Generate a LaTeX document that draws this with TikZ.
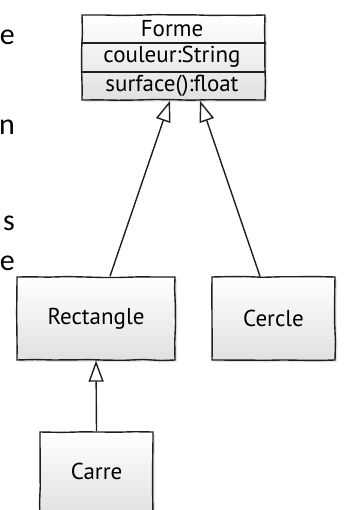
\documentclass[tikz,border=0pt]{standalone}
\usepackage{fontspec}
\setmainfont{Carlito}
\newfontfamily\sketchfont{PT Sans}
\usetikzlibrary{arrows.meta,shadows,calc,decorations.pathmorphing}

\begin{document}
\begin{tikzpicture}[x=1pt,y=-1pt,
  ink/.style={draw=black!88, line width=1.4pt},
  umlbox/.style={ink, top color=white, bottom color=black!12,
    drop shadow={shadow xshift=2pt, shadow yshift=-2pt, opacity=0.22},
    inner sep=0pt, font=\sketchfont\fontsize{23}{26}\selectfont,
    decoration={random steps, segment length=18pt, amplitude=0.5pt}, decorate},
  label/.style={inner sep=0pt, font=\sketchfont\fontsize{23}{26}\selectfont},
  edgeword/.style={inner sep=0pt, anchor=base east, font=\fontsize{30}{30}\selectfont},
  inherit/.style={ink, -{Triangle[open, length=21pt, width=15pt, fill=white]}}
]
\pgfmathsetseed{7}
\useasboundingbox (0,0) rectangle (344,510);
\clip (0,0) rectangle (344,510);

% words running in from the left margin
\node[edgeword] (w1) at (15,45) {e};
\node[edgeword] (w2) at (15,135) {n};
\node[edgeword] (w3) at (15,230) {s};
\node[edgeword] (w4) at (15,270) {e};

% class Forme with its three compartments
\node[umlbox, minimum width=183pt, minimum height=85pt] (forme) at (173.5,57.5) {};
\draw[ink] ($(forme.north west)!0.33!(forme.south west)$) -- ($(forme.north east)!0.33!(forme.south east)$);
\draw[ink] ($(forme.north west)!0.67!(forme.south west)$) -- ($(forme.north east)!0.67!(forme.south east)$);
\node[label] (ftitle) at (172,29) {Forme};
\node[label] (fattr) at (172,57) {couleur:String};
\node[label] (fop) at (172,86) {surface():float};

% subclasses
\node[umlbox, minimum width=158pt, minimum height=83pt] (rect) at (96,318.5) {Rectangle};
\node[umlbox, minimum width=123pt, minimum height=83pt] (cercle) at (273.5,318.5) {Cercle};
\node[umlbox, minimum width=113pt, minimum height=83pt] (carre) at (96.5,473.5) {\raisebox{4pt}{Carre}};

% generalisation arrows
\draw[inherit] ($(rect.north)+(14,0)$) -- ($(forme.south)+(-3.5,0)$);
\draw[inherit] ($(cercle.north)+(-13.5,0)$) -- ($(forme.south)+(26.5,0)$);
\draw[inherit] (carre.north) -- (rect.south);
\end{tikzpicture}
\end{document}
